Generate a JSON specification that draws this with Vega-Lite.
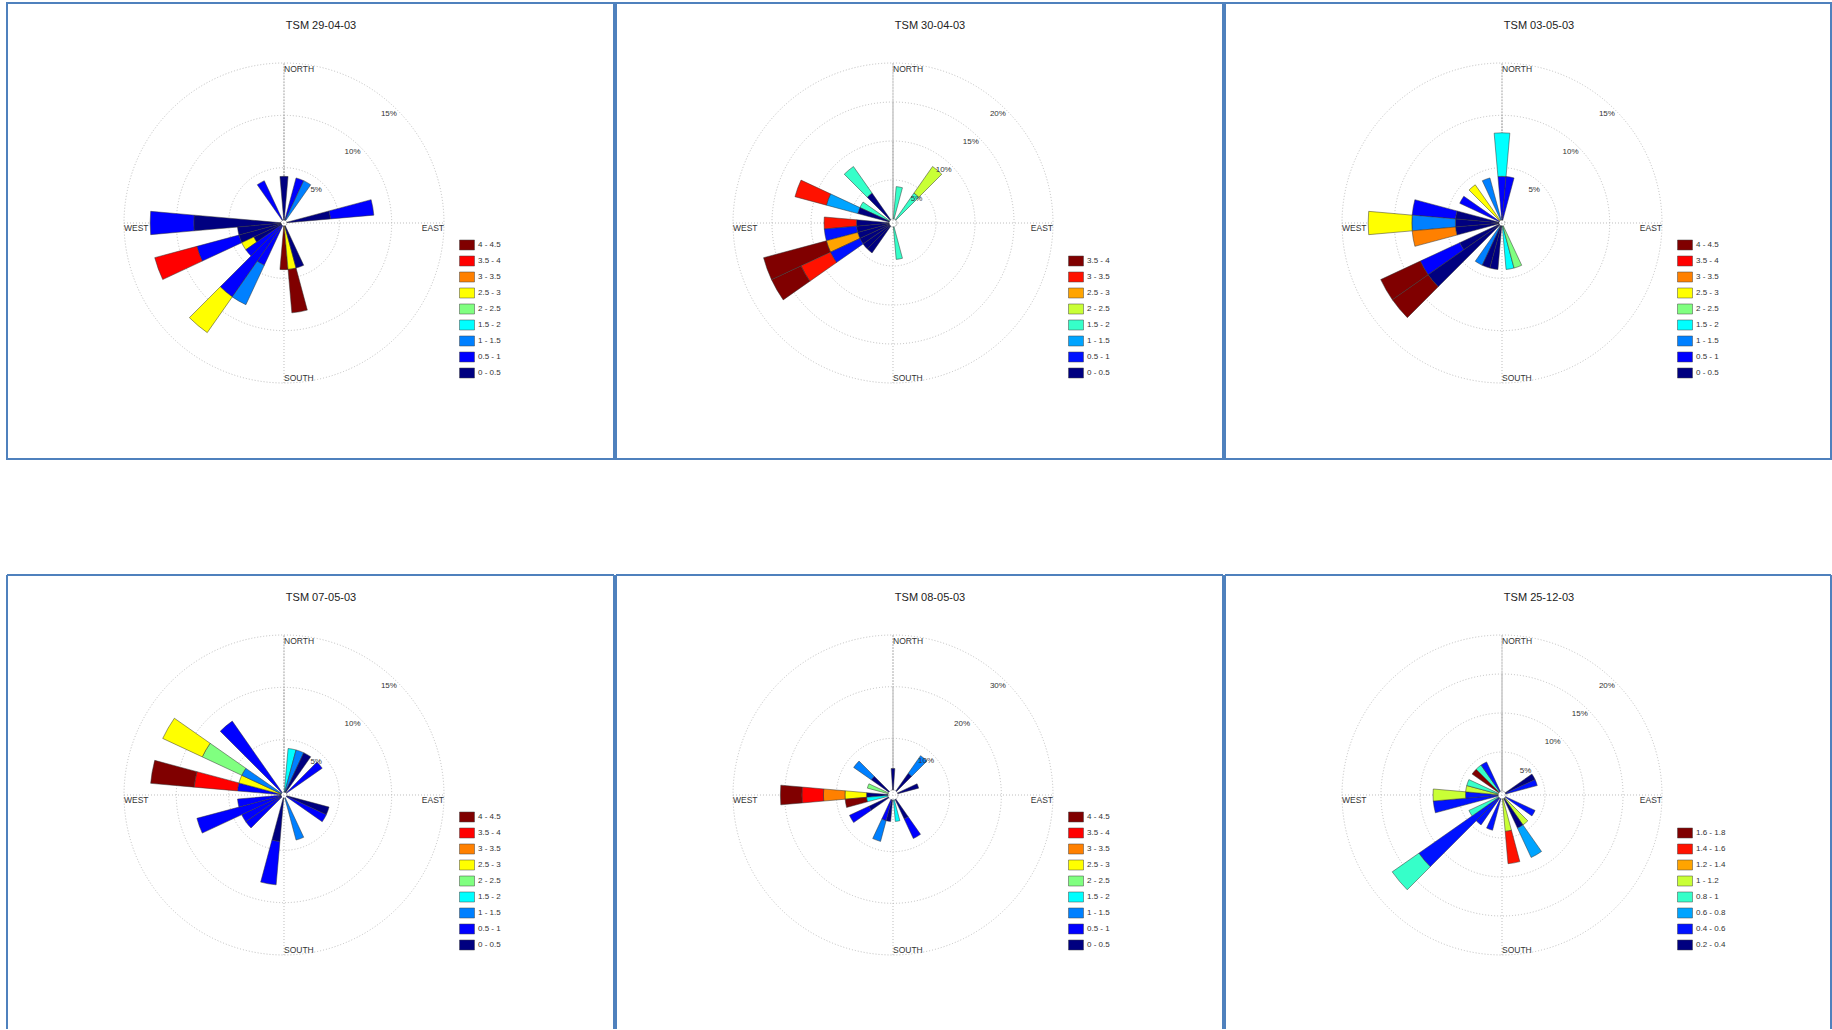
{
"$schema": "https://vega.github.io/schema/vega-lite/v6.json",
"background": "white",
"padding": {"left": 6, "top": 2, "right": 0, "bottom": 0},
"spacing": 114,
"config": {"view": {"stroke": "#4f81bd", "strokeWidth": 2}, "font": "Liberation Sans"},
"resolve": {"scale": {"x": "independent", "y": "independent", "color": "independent", "radius": "independent", "theta": "independent"}, "legend": {"color": "independent"}},
"vconcat": [
{"hconcat": [
{"width": 607, "height": 456,
"layer": [
{"data": {"values": [{"r": 5}, {"r": 10}, {"r": 15}]}, "mark": {"type": "arc", "theta": 0, "theta2": 6.283185, "filled": false, "stroke": "#b5b5b5", "strokeWidth": 0.9, "strokeDash": [1, 2]},
 "encoding": {"x": {"datum": 0, "type": "quantitative", "scale": {"domain": [-26.465, 31.529]}, "axis": null}, "y": {"datum": 0, "type": "quantitative", "scale": {"domain": [-22.548, 21.019]}, "axis": null}, "radius": {"field": "r", "type": "quantitative", "scale": {"type": "linear", "domain": [0, 15], "range": [3, 160]}, "stack": null}}},
{"data": {"values": [{}]}, "mark": {"type": "rule", "stroke": "#b5b5b5", "strokeWidth": 0.9, "strokeDash": [1, 2]},
 "encoding": {"x": {"datum": 0, "type": "quantitative", "scale": {"domain": [-26.465, 31.529]}, "axis": null}, "y": {"datum": -15.287, "type": "quantitative", "scale": {"domain": [-22.548, 21.019]}, "axis": null}, "y2": {"datum": 15.287}}},
{"data": {"values": [{}]}, "mark": {"type": "rule", "stroke": "#b5b5b5", "strokeWidth": 0.9, "strokeDash": [1, 2]},
 "encoding": {"y": {"datum": 0, "type": "quantitative", "scale": {"domain": [-22.548, 21.019]}, "axis": null}, "x": {"datum": -15.287, "type": "quantitative", "scale": {"domain": [-26.465, 31.529]}, "axis": null}, "x2": {"datum": 15.287}}},
{"data": {"values": [
 {"d0": -5, "d1": 5, "c": "0 - 0.5", "lo": 0, "hi": 4.17},
 {"d0": 325, "d1": 335, "c": "0.5 - 1", "lo": 0, "hi": 4.17},
 {"d0": 15, "d1": 25, "c": "0.5 - 1", "lo": 0, "hi": 4.17},
 {"d0": 25, "d1": 35, "c": "1 - 1.5", "lo": 0, "hi": 4.17},
 {"d0": 75, "d1": 85, "c": "0 - 0.5", "lo": 0, "hi": 4.17},
 {"d0": 75, "d1": 85, "c": "0.5 - 1", "lo": 4.17, "hi": 8.33},
 {"d0": 265, "d1": 275, "c": "0 - 0.5", "lo": 0, "hi": 8.33},
 {"d0": 265, "d1": 275, "c": "0.5 - 1", "lo": 8.33, "hi": 12.5},
 {"d0": 255, "d1": 265, "c": "0 - 0.5", "lo": 0, "hi": 4.17},
 {"d0": 245, "d1": 255, "c": "0 - 0.5", "lo": 0, "hi": 4.17},
 {"d0": 245, "d1": 255, "c": "0.5 - 1", "lo": 4.17, "hi": 8.33},
 {"d0": 245, "d1": 255, "c": "3.5 - 4", "lo": 8.33, "hi": 12.5},
 {"d0": 235, "d1": 245, "c": "0 - 0.5", "lo": 0, "hi": 2.9},
 {"d0": 235, "d1": 245, "c": "2.5 - 3", "lo": 2.9, "hi": 4.17},
 {"d0": 225, "d1": 235, "c": "0.5 - 1", "lo": 0, "hi": 4.17},
 {"d0": 215, "d1": 225, "c": "0.5 - 1", "lo": 0, "hi": 8.33},
 {"d0": 215, "d1": 225, "c": "2.5 - 3", "lo": 8.33, "hi": 12.5},
 {"d0": 205, "d1": 215, "c": "0.5 - 1", "lo": 0, "hi": 4.17},
 {"d0": 205, "d1": 215, "c": "1 - 1.5", "lo": 4.17, "hi": 8.33},
 {"d0": 175, "d1": 185, "c": "4 - 4.5", "lo": 0, "hi": 4.17},
 {"d0": 165, "d1": 175, "c": "2.5 - 3", "lo": 0, "hi": 4.17},
 {"d0": 165, "d1": 175, "c": "4 - 4.5", "lo": 4.17, "hi": 8.33},
 {"d0": 155, "d1": 165, "c": "0 - 0.5", "lo": 0, "hi": 4.17}]},
 "mark": {"type": "arc", "stroke": "#333333", "strokeWidth": 0.5},
 "encoding": {"x": {"datum": 0, "type": "quantitative", "scale": {"domain": [-26.465, 31.529]}, "axis": null}, "y": {"datum": 0, "type": "quantitative", "scale": {"domain": [-22.548, 21.019]}, "axis": null},
  "theta": {"field": "d0", "type": "quantitative", "scale": {"domain": [0, 360], "range": [0, 6.283185]}, "stack": null}, "theta2": {"field": "d1"},
  "radius": {"field": "hi", "type": "quantitative", "scale": {"type": "linear", "domain": [0, 15], "range": [3, 160]}, "stack": null}, "radius2": {"field": "lo"},
  "color": {"field": "c", "type": "nominal", "scale": {"domain": ["4 - 4.5", "3.5 - 4", "3 - 3.5", "2.5 - 3", "2 - 2.5", "1.5 - 2", "1 - 1.5", "0.5 - 1", "0 - 0.5"], "range": ["#800000", "#ff0000", "#ff8000", "#ffff00", "#80ff80", "#00ffff", "#0080ff", "#0000ff", "#000080"]},
   "legend": {"orient": "none", "legendX": 452, "legendY": 234, "title": null, "symbolType": "M-1,-0.667H1V0.667H-1Z", "symbolSize": 225, "symbolStrokeColor": "#444444", "symbolStrokeWidth": 0.5, "labelFontSize": 8, "labelColor": "#333333", "labelOffset": 3, "rowPadding": 1}}}},
{"data": {"values": [{}]}, "mark": {"type": "text", "text": "NORTH", "align": "left", "baseline": "middle", "radiusOffset": -6, "fontSize": 8.5, "fill": "#333333"},
 "encoding": {"x": {"datum": 0, "type": "quantitative", "scale": {"domain": [-26.465, 31.529]}, "axis": null}, "y": {"datum": 0, "type": "quantitative", "scale": {"domain": [-22.548, 21.019]}, "axis": null}, "theta": {"datum": 0, "type": "quantitative", "scale": {"domain": [0, 360], "range": [0, 6.283185]}}, "radius": {"datum": 15, "type": "quantitative", "scale": {"type": "linear", "domain": [0, 15], "range": [3, 160]}}}},
{"data": {"values": [{}]}, "mark": {"type": "text", "text": "SOUTH", "align": "left", "baseline": "middle", "radiusOffset": -5, "fontSize": 8.5, "fill": "#333333"},
 "encoding": {"x": {"datum": 0, "type": "quantitative", "scale": {"domain": [-26.465, 31.529]}, "axis": null}, "y": {"datum": 0, "type": "quantitative", "scale": {"domain": [-22.548, 21.019]}, "axis": null}, "theta": {"datum": 180, "type": "quantitative", "scale": {"domain": [0, 360], "range": [0, 6.283185]}}, "radius": {"datum": 15, "type": "quantitative", "scale": {"type": "linear", "domain": [0, 15], "range": [3, 160]}}}},
{"data": {"values": [{}]}, "mark": {"type": "text", "text": "WEST", "align": "left", "baseline": "middle", "dy": 5, "fontSize": 8.5, "fill": "#333333"},
 "encoding": {"x": {"datum": 0, "type": "quantitative", "scale": {"domain": [-26.465, 31.529]}, "axis": null}, "y": {"datum": 0, "type": "quantitative", "scale": {"domain": [-22.548, 21.019]}, "axis": null}, "theta": {"datum": 270, "type": "quantitative", "scale": {"domain": [0, 360], "range": [0, 6.283185]}}, "radius": {"datum": 15, "type": "quantitative", "scale": {"type": "linear", "domain": [0, 15], "range": [3, 160]}}}},
{"data": {"values": [{}]}, "mark": {"type": "text", "text": "EAST", "align": "right", "baseline": "middle", "dy": 5, "fontSize": 8.5, "fill": "#333333"},
 "encoding": {"x": {"datum": 0, "type": "quantitative", "scale": {"domain": [-26.465, 31.529]}, "axis": null}, "y": {"datum": 0, "type": "quantitative", "scale": {"domain": [-22.548, 21.019]}, "axis": null}, "theta": {"datum": 90, "type": "quantitative", "scale": {"domain": [0, 360], "range": [0, 6.283185]}}, "radius": {"datum": 15, "type": "quantitative", "scale": {"type": "linear", "domain": [0, 15], "range": [3, 160]}}}},
{"data": {"values": [{"v": 5, "lbl": "5%"}, {"v": 10, "lbl": "10%"}, {"v": 15, "lbl": "15%"}]}, "mark": {"type": "text", "radiusOffset": -9, "fontSize": 8, "fill": "#333333"},
 "encoding": {"x": {"datum": 0, "type": "quantitative", "scale": {"domain": [-26.465, 31.529]}, "axis": null}, "y": {"datum": 0, "type": "quantitative", "scale": {"domain": [-22.548, 21.019]}, "axis": null}, "theta": {"datum": 44, "type": "quantitative", "scale": {"domain": [0, 360], "range": [0, 6.283185]}}, "radius": {"field": "v", "type": "quantitative", "scale": {"type": "linear", "domain": [0, 15], "range": [3, 160]}, "stack": null}, "text": {"field": "lbl"}}},
{"data": {"values": [{}]}, "mark": {"type": "text", "text": "TSM 29-04-03", "align": "center", "baseline": "middle", "fontSize": 11, "fill": "#222222"},
 "encoding": {"x": {"datum": 3.535, "type": "quantitative", "scale": {"domain": [-26.465, 31.529]}, "axis": null}, "y": {"datum": 18.822, "type": "quantitative", "scale": {"domain": [-22.548, 21.019]}, "axis": null}}}
]},
{"width": 607, "height": 456,
"layer": [
{"data": {"values": [{"r": 5}, {"r": 10}, {"r": 15}, {"r": 20}]}, "mark": {"type": "arc", "theta": 0, "theta2": 6.283185, "filled": false, "stroke": "#b5b5b5", "strokeWidth": 0.9, "strokeDash": [1, 2]},
 "encoding": {"x": {"datum": 0, "type": "quantitative", "scale": {"domain": [-35.513, 42.308]}, "axis": null}, "y": {"datum": 0, "type": "quantitative", "scale": {"domain": [-30.256, 28.205]}, "axis": null}, "radius": {"field": "r", "type": "quantitative", "scale": {"type": "linear", "domain": [0, 20], "range": [4, 160]}, "stack": null}}},
{"data": {"values": [{}]}, "mark": {"type": "rule", "stroke": "#b5b5b5", "strokeWidth": 0.9, "strokeDash": [1, 2]},
 "encoding": {"x": {"datum": 0, "type": "quantitative", "scale": {"domain": [-35.513, 42.308]}, "axis": null}, "y": {"datum": -20.513, "type": "quantitative", "scale": {"domain": [-30.256, 28.205]}, "axis": null}, "y2": {"datum": 20.513}}},
{"data": {"values": [{}]}, "mark": {"type": "rule", "stroke": "#b5b5b5", "strokeWidth": 0.9, "strokeDash": [1, 2]},
 "encoding": {"y": {"datum": 0, "type": "quantitative", "scale": {"domain": [-30.256, 28.205]}, "axis": null}, "x": {"datum": -20.513, "type": "quantitative", "scale": {"domain": [-35.513, 42.308]}, "axis": null}, "x2": {"datum": 20.513}}},
{"data": {"values": [
 {"d0": 5, "d1": 15, "c": "1.5 - 2", "lo": 0, "hi": 4.17},
 {"d0": 35, "d1": 45, "c": "1.5 - 2", "lo": 0, "hi": 4.17},
 {"d0": 35, "d1": 45, "c": "2 - 2.5", "lo": 4.17, "hi": 8.33},
 {"d0": 165, "d1": 175, "c": "1.5 - 2", "lo": 0, "hi": 4.17},
 {"d0": 315, "d1": 325, "c": "0 - 0.5", "lo": 0, "hi": 4.17},
 {"d0": 315, "d1": 325, "c": "1.5 - 2", "lo": 4.17, "hi": 8.33},
 {"d0": 295, "d1": 305, "c": "1.5 - 2", "lo": 0, "hi": 4.17},
 {"d0": 285, "d1": 295, "c": "0 - 0.5", "lo": 0, "hi": 4.17},
 {"d0": 285, "d1": 295, "c": "1 - 1.5", "lo": 4.17, "hi": 8.33},
 {"d0": 285, "d1": 295, "c": "3 - 3.5", "lo": 8.33, "hi": 12.5},
 {"d0": 265, "d1": 275, "c": "0 - 0.5", "lo": 0, "hi": 4.17},
 {"d0": 265, "d1": 275, "c": "3 - 3.5", "lo": 4.17, "hi": 8.33},
 {"d0": 255, "d1": 265, "c": "0 - 0.5", "lo": 0, "hi": 4.17},
 {"d0": 255, "d1": 265, "c": "0.5 - 1", "lo": 4.17, "hi": 8.33},
 {"d0": 245, "d1": 255, "c": "0 - 0.5", "lo": 0, "hi": 4.17},
 {"d0": 245, "d1": 255, "c": "2.5 - 3", "lo": 4.17, "hi": 8.33},
 {"d0": 245, "d1": 255, "c": "3.5 - 4", "lo": 8.33, "hi": 16.67},
 {"d0": 235, "d1": 245, "c": "0 - 0.5", "lo": 0, "hi": 4.17},
 {"d0": 235, "d1": 245, "c": "0.5 - 1", "lo": 4.17, "hi": 8.33},
 {"d0": 235, "d1": 245, "c": "3 - 3.5", "lo": 8.33, "hi": 12.5},
 {"d0": 235, "d1": 245, "c": "3.5 - 4", "lo": 12.5, "hi": 16.67},
 {"d0": 225, "d1": 235, "c": "0 - 0.5", "lo": 0, "hi": 4.17},
 {"d0": 215, "d1": 225, "c": "0 - 0.5", "lo": 0, "hi": 4.17}]},
 "mark": {"type": "arc", "stroke": "#333333", "strokeWidth": 0.5},
 "encoding": {"x": {"datum": 0, "type": "quantitative", "scale": {"domain": [-35.513, 42.308]}, "axis": null}, "y": {"datum": 0, "type": "quantitative", "scale": {"domain": [-30.256, 28.205]}, "axis": null},
  "theta": {"field": "d0", "type": "quantitative", "scale": {"domain": [0, 360], "range": [0, 6.283185]}, "stack": null}, "theta2": {"field": "d1"},
  "radius": {"field": "hi", "type": "quantitative", "scale": {"type": "linear", "domain": [0, 20], "range": [4, 160]}, "stack": null}, "radius2": {"field": "lo"},
  "color": {"field": "c", "type": "nominal", "scale": {"domain": ["3.5 - 4", "3 - 3.5", "2.5 - 3", "2 - 2.5", "1.5 - 2", "1 - 1.5", "0.5 - 1", "0 - 0.5"], "range": ["#800000", "#ff1200", "#ffa400", "#c9ff36", "#36ffc9", "#00a4ff", "#0012ff", "#000080"]},
   "legend": {"orient": "none", "legendX": 452, "legendY": 250, "title": null, "symbolType": "M-1,-0.667H1V0.667H-1Z", "symbolSize": 225, "symbolStrokeColor": "#444444", "symbolStrokeWidth": 0.5, "labelFontSize": 8, "labelColor": "#333333", "labelOffset": 3, "rowPadding": 1}}}},
{"data": {"values": [{}]}, "mark": {"type": "text", "text": "NORTH", "align": "left", "baseline": "middle", "radiusOffset": -6, "fontSize": 8.5, "fill": "#333333"},
 "encoding": {"x": {"datum": 0, "type": "quantitative", "scale": {"domain": [-35.513, 42.308]}, "axis": null}, "y": {"datum": 0, "type": "quantitative", "scale": {"domain": [-30.256, 28.205]}, "axis": null}, "theta": {"datum": 0, "type": "quantitative", "scale": {"domain": [0, 360], "range": [0, 6.283185]}}, "radius": {"datum": 20, "type": "quantitative", "scale": {"type": "linear", "domain": [0, 20], "range": [4, 160]}}}},
{"data": {"values": [{}]}, "mark": {"type": "text", "text": "SOUTH", "align": "left", "baseline": "middle", "radiusOffset": -5, "fontSize": 8.5, "fill": "#333333"},
 "encoding": {"x": {"datum": 0, "type": "quantitative", "scale": {"domain": [-35.513, 42.308]}, "axis": null}, "y": {"datum": 0, "type": "quantitative", "scale": {"domain": [-30.256, 28.205]}, "axis": null}, "theta": {"datum": 180, "type": "quantitative", "scale": {"domain": [0, 360], "range": [0, 6.283185]}}, "radius": {"datum": 20, "type": "quantitative", "scale": {"type": "linear", "domain": [0, 20], "range": [4, 160]}}}},
{"data": {"values": [{}]}, "mark": {"type": "text", "text": "WEST", "align": "left", "baseline": "middle", "dy": 5, "fontSize": 8.5, "fill": "#333333"},
 "encoding": {"x": {"datum": 0, "type": "quantitative", "scale": {"domain": [-35.513, 42.308]}, "axis": null}, "y": {"datum": 0, "type": "quantitative", "scale": {"domain": [-30.256, 28.205]}, "axis": null}, "theta": {"datum": 270, "type": "quantitative", "scale": {"domain": [0, 360], "range": [0, 6.283185]}}, "radius": {"datum": 20, "type": "quantitative", "scale": {"type": "linear", "domain": [0, 20], "range": [4, 160]}}}},
{"data": {"values": [{}]}, "mark": {"type": "text", "text": "EAST", "align": "right", "baseline": "middle", "dy": 5, "fontSize": 8.5, "fill": "#333333"},
 "encoding": {"x": {"datum": 0, "type": "quantitative", "scale": {"domain": [-35.513, 42.308]}, "axis": null}, "y": {"datum": 0, "type": "quantitative", "scale": {"domain": [-30.256, 28.205]}, "axis": null}, "theta": {"datum": 90, "type": "quantitative", "scale": {"domain": [0, 360], "range": [0, 6.283185]}}, "radius": {"datum": 20, "type": "quantitative", "scale": {"type": "linear", "domain": [0, 20], "range": [4, 160]}}}},
{"data": {"values": [{"v": 5, "lbl": "5%"}, {"v": 10, "lbl": "10%"}, {"v": 15, "lbl": "15%"}, {"v": 20, "lbl": "20%"}]}, "mark": {"type": "text", "radiusOffset": -9, "fontSize": 8, "fill": "#333333"},
 "encoding": {"x": {"datum": 0, "type": "quantitative", "scale": {"domain": [-35.513, 42.308]}, "axis": null}, "y": {"datum": 0, "type": "quantitative", "scale": {"domain": [-30.256, 28.205]}, "axis": null}, "theta": {"datum": 44, "type": "quantitative", "scale": {"domain": [0, 360], "range": [0, 6.283185]}}, "radius": {"field": "v", "type": "quantitative", "scale": {"type": "linear", "domain": [0, 20], "range": [4, 160]}, "stack": null}, "text": {"field": "lbl"}}},
{"data": {"values": [{}]}, "mark": {"type": "text", "text": "TSM 30-04-03", "align": "center", "baseline": "middle", "fontSize": 11, "fill": "#222222"},
 "encoding": {"x": {"datum": 4.744, "type": "quantitative", "scale": {"domain": [-35.513, 42.308]}, "axis": null}, "y": {"datum": 25.256, "type": "quantitative", "scale": {"domain": [-30.256, 28.205]}, "axis": null}}}
]},
{"width": 606, "height": 456,
"layer": [
{"data": {"values": [{"r": 5}, {"r": 10}, {"r": 15}]}, "mark": {"type": "arc", "theta": 0, "theta2": 6.283185, "filled": false, "stroke": "#b5b5b5", "strokeWidth": 0.9, "strokeDash": [1, 2]},
 "encoding": {"x": {"datum": 0, "type": "quantitative", "scale": {"domain": [-26.465, 31.433]}, "axis": null}, "y": {"datum": 0, "type": "quantitative", "scale": {"domain": [-22.548, 21.019]}, "axis": null}, "radius": {"field": "r", "type": "quantitative", "scale": {"type": "linear", "domain": [0, 15], "range": [3, 160]}, "stack": null}}},
{"data": {"values": [{}]}, "mark": {"type": "rule", "stroke": "#b5b5b5", "strokeWidth": 0.9, "strokeDash": [1, 2]},
 "encoding": {"x": {"datum": 0, "type": "quantitative", "scale": {"domain": [-26.465, 31.433]}, "axis": null}, "y": {"datum": -15.287, "type": "quantitative", "scale": {"domain": [-22.548, 21.019]}, "axis": null}, "y2": {"datum": 15.287}}},
{"data": {"values": [{}]}, "mark": {"type": "rule", "stroke": "#b5b5b5", "strokeWidth": 0.9, "strokeDash": [1, 2]},
 "encoding": {"y": {"datum": 0, "type": "quantitative", "scale": {"domain": [-22.548, 21.019]}, "axis": null}, "x": {"datum": -15.287, "type": "quantitative", "scale": {"domain": [-26.465, 31.433]}, "axis": null}, "x2": {"datum": 15.287}}},
{"data": {"values": [
 {"d0": -5, "d1": 5, "c": "0.5 - 1", "lo": 0, "hi": 4.17},
 {"d0": -5, "d1": 5, "c": "1.5 - 2", "lo": 4.17, "hi": 8.33},
 {"d0": 5, "d1": 15, "c": "0.5 - 1", "lo": 0, "hi": 4.17},
 {"d0": 335, "d1": 345, "c": "1 - 1.5", "lo": 0, "hi": 4.17},
 {"d0": 315, "d1": 325, "c": "2.5 - 3", "lo": 0, "hi": 4.17},
 {"d0": 295, "d1": 305, "c": "0.5 - 1", "lo": 0, "hi": 4.17},
 {"d0": 275, "d1": 285, "c": "0 - 0.5", "lo": 0, "hi": 4.17},
 {"d0": 275, "d1": 285, "c": "0.5 - 1", "lo": 4.17, "hi": 8.33},
 {"d0": 265, "d1": 275, "c": "0 - 0.5", "lo": 0, "hi": 4.17},
 {"d0": 265, "d1": 275, "c": "1 - 1.5", "lo": 4.17, "hi": 8.33},
 {"d0": 265, "d1": 275, "c": "2.5 - 3", "lo": 8.33, "hi": 12.5},
 {"d0": 255, "d1": 265, "c": "0 - 0.5", "lo": 0, "hi": 4.17},
 {"d0": 255, "d1": 265, "c": "3 - 3.5", "lo": 4.17, "hi": 8.33},
 {"d0": 235, "d1": 245, "c": "0 - 0.5", "lo": 0, "hi": 4.17},
 {"d0": 235, "d1": 245, "c": "0.5 - 1", "lo": 4.17, "hi": 8.33},
 {"d0": 235, "d1": 245, "c": "4 - 4.5", "lo": 8.33, "hi": 12.5},
 {"d0": 225, "d1": 235, "c": "0 - 0.5", "lo": 0, "hi": 8.33},
 {"d0": 225, "d1": 235, "c": "4 - 4.5", "lo": 8.33, "hi": 12.5},
 {"d0": 205, "d1": 215, "c": "1 - 1.5", "lo": 0, "hi": 4.17},
 {"d0": 195, "d1": 205, "c": "0 - 0.5", "lo": 0, "hi": 4.17},
 {"d0": 185, "d1": 195, "c": "0 - 0.5", "lo": 0, "hi": 4.17},
 {"d0": 165, "d1": 175, "c": "1.5 - 2", "lo": 0, "hi": 4.17},
 {"d0": 155, "d1": 165, "c": "2 - 2.5", "lo": 0, "hi": 4.17}]},
 "mark": {"type": "arc", "stroke": "#333333", "strokeWidth": 0.5},
 "encoding": {"x": {"datum": 0, "type": "quantitative", "scale": {"domain": [-26.465, 31.433]}, "axis": null}, "y": {"datum": 0, "type": "quantitative", "scale": {"domain": [-22.548, 21.019]}, "axis": null},
  "theta": {"field": "d0", "type": "quantitative", "scale": {"domain": [0, 360], "range": [0, 6.283185]}, "stack": null}, "theta2": {"field": "d1"},
  "radius": {"field": "hi", "type": "quantitative", "scale": {"type": "linear", "domain": [0, 15], "range": [3, 160]}, "stack": null}, "radius2": {"field": "lo"},
  "color": {"field": "c", "type": "nominal", "scale": {"domain": ["4 - 4.5", "3.5 - 4", "3 - 3.5", "2.5 - 3", "2 - 2.5", "1.5 - 2", "1 - 1.5", "0.5 - 1", "0 - 0.5"], "range": ["#800000", "#ff0000", "#ff8000", "#ffff00", "#80ff80", "#00ffff", "#0080ff", "#0000ff", "#000080"]},
   "legend": {"orient": "none", "legendX": 452, "legendY": 234, "title": null, "symbolType": "M-1,-0.667H1V0.667H-1Z", "symbolSize": 225, "symbolStrokeColor": "#444444", "symbolStrokeWidth": 0.5, "labelFontSize": 8, "labelColor": "#333333", "labelOffset": 3, "rowPadding": 1}}}},
{"data": {"values": [{}]}, "mark": {"type": "text", "text": "NORTH", "align": "left", "baseline": "middle", "radiusOffset": -6, "fontSize": 8.5, "fill": "#333333"},
 "encoding": {"x": {"datum": 0, "type": "quantitative", "scale": {"domain": [-26.465, 31.433]}, "axis": null}, "y": {"datum": 0, "type": "quantitative", "scale": {"domain": [-22.548, 21.019]}, "axis": null}, "theta": {"datum": 0, "type": "quantitative", "scale": {"domain": [0, 360], "range": [0, 6.283185]}}, "radius": {"datum": 15, "type": "quantitative", "scale": {"type": "linear", "domain": [0, 15], "range": [3, 160]}}}},
{"data": {"values": [{}]}, "mark": {"type": "text", "text": "SOUTH", "align": "left", "baseline": "middle", "radiusOffset": -5, "fontSize": 8.5, "fill": "#333333"},
 "encoding": {"x": {"datum": 0, "type": "quantitative", "scale": {"domain": [-26.465, 31.433]}, "axis": null}, "y": {"datum": 0, "type": "quantitative", "scale": {"domain": [-22.548, 21.019]}, "axis": null}, "theta": {"datum": 180, "type": "quantitative", "scale": {"domain": [0, 360], "range": [0, 6.283185]}}, "radius": {"datum": 15, "type": "quantitative", "scale": {"type": "linear", "domain": [0, 15], "range": [3, 160]}}}},
{"data": {"values": [{}]}, "mark": {"type": "text", "text": "WEST", "align": "left", "baseline": "middle", "dy": 5, "fontSize": 8.5, "fill": "#333333"},
 "encoding": {"x": {"datum": 0, "type": "quantitative", "scale": {"domain": [-26.465, 31.433]}, "axis": null}, "y": {"datum": 0, "type": "quantitative", "scale": {"domain": [-22.548, 21.019]}, "axis": null}, "theta": {"datum": 270, "type": "quantitative", "scale": {"domain": [0, 360], "range": [0, 6.283185]}}, "radius": {"datum": 15, "type": "quantitative", "scale": {"type": "linear", "domain": [0, 15], "range": [3, 160]}}}},
{"data": {"values": [{}]}, "mark": {"type": "text", "text": "EAST", "align": "right", "baseline": "middle", "dy": 5, "fontSize": 8.5, "fill": "#333333"},
 "encoding": {"x": {"datum": 0, "type": "quantitative", "scale": {"domain": [-26.465, 31.433]}, "axis": null}, "y": {"datum": 0, "type": "quantitative", "scale": {"domain": [-22.548, 21.019]}, "axis": null}, "theta": {"datum": 90, "type": "quantitative", "scale": {"domain": [0, 360], "range": [0, 6.283185]}}, "radius": {"datum": 15, "type": "quantitative", "scale": {"type": "linear", "domain": [0, 15], "range": [3, 160]}}}},
{"data": {"values": [{"v": 5, "lbl": "5%"}, {"v": 10, "lbl": "10%"}, {"v": 15, "lbl": "15%"}]}, "mark": {"type": "text", "radiusOffset": -9, "fontSize": 8, "fill": "#333333"},
 "encoding": {"x": {"datum": 0, "type": "quantitative", "scale": {"domain": [-26.465, 31.433]}, "axis": null}, "y": {"datum": 0, "type": "quantitative", "scale": {"domain": [-22.548, 21.019]}, "axis": null}, "theta": {"datum": 44, "type": "quantitative", "scale": {"domain": [0, 360], "range": [0, 6.283185]}}, "radius": {"field": "v", "type": "quantitative", "scale": {"type": "linear", "domain": [0, 15], "range": [3, 160]}, "stack": null}, "text": {"field": "lbl"}}},
{"data": {"values": [{}]}, "mark": {"type": "text", "text": "TSM 03-05-03", "align": "center", "baseline": "middle", "fontSize": 11, "fill": "#222222"},
 "encoding": {"x": {"datum": 3.535, "type": "quantitative", "scale": {"domain": [-26.465, 31.433]}, "axis": null}, "y": {"datum": 18.822, "type": "quantitative", "scale": {"domain": [-22.548, 21.019]}, "axis": null}}}
]}
], "spacing": 2, "bounds": "flush",
"resolve": {"scale": {"x": "independent", "y": "independent", "color": "independent", "radius": "independent", "theta": "independent"}, "legend": {"color": "independent"}}},
{"hconcat": [
{"width": 607, "height": 454, "view": {"stroke": null},
"layer": [
{"data": {"values": [{"r": 5}, {"r": 10}, {"r": 15}]}, "mark": {"type": "arc", "theta": 0, "theta2": 6.283185, "filled": false, "stroke": "#b5b5b5", "strokeWidth": 0.9, "strokeDash": [1, 2]},
 "encoding": {"x": {"datum": 0, "type": "quantitative", "scale": {"domain": [-26.465, 31.529]}, "axis": null}, "y": {"datum": 0, "type": "quantitative", "scale": {"domain": [-22.357, 21.019]}, "axis": null}, "radius": {"field": "r", "type": "quantitative", "scale": {"type": "linear", "domain": [0, 15], "range": [3, 160]}, "stack": null}}},
{"data": {"values": [{}]}, "mark": {"type": "rule", "stroke": "#b5b5b5", "strokeWidth": 0.9, "strokeDash": [1, 2]},
 "encoding": {"x": {"datum": 0, "type": "quantitative", "scale": {"domain": [-26.465, 31.529]}, "axis": null}, "y": {"datum": -15.287, "type": "quantitative", "scale": {"domain": [-22.357, 21.019]}, "axis": null}, "y2": {"datum": 15.287}}},
{"data": {"values": [{}]}, "mark": {"type": "rule", "stroke": "#b5b5b5", "strokeWidth": 0.9, "strokeDash": [1, 2]},
 "encoding": {"y": {"datum": 0, "type": "quantitative", "scale": {"domain": [-22.357, 21.019]}, "axis": null}, "x": {"datum": -15.287, "type": "quantitative", "scale": {"domain": [-26.465, 31.529]}, "axis": null}, "x2": {"datum": 15.287}}},
{"data": {"values": [
 {"d0": 5, "d1": 15, "c": "1.5 - 2", "lo": 0, "hi": 4.17},
 {"d0": 15, "d1": 25, "c": "1 - 1.5", "lo": 0, "hi": 4.17},
 {"d0": 25, "d1": 35, "c": "0 - 0.5", "lo": 0, "hi": 4.17},
 {"d0": 45, "d1": 55, "c": "0.5 - 1", "lo": 0, "hi": 4.17},
 {"d0": 105, "d1": 115, "c": "0 - 0.5", "lo": 0, "hi": 4.17},
 {"d0": 115, "d1": 125, "c": "0.5 - 1", "lo": 0, "hi": 4.17},
 {"d0": 155, "d1": 165, "c": "1 - 1.5", "lo": 0, "hi": 4.17},
 {"d0": 185, "d1": 195, "c": "0 - 0.5", "lo": 0, "hi": 4.17},
 {"d0": 185, "d1": 195, "c": "0.5 - 1", "lo": 4.17, "hi": 8.33},
 {"d0": 225, "d1": 235, "c": "0.5 - 1", "lo": 0, "hi": 4.17},
 {"d0": 235, "d1": 245, "c": "0.5 - 1", "lo": 0, "hi": 4.17},
 {"d0": 245, "d1": 255, "c": "0.5 - 1", "lo": 0, "hi": 8.33},
 {"d0": 255, "d1": 265, "c": "0.5 - 1", "lo": 0, "hi": 4.17},
 {"d0": 275, "d1": 285, "c": "0.5 - 1", "lo": 0, "hi": 4.17},
 {"d0": 275, "d1": 285, "c": "3.5 - 4", "lo": 4.17, "hi": 8.33},
 {"d0": 275, "d1": 285, "c": "4 - 4.5", "lo": 8.33, "hi": 12.5},
 {"d0": 285, "d1": 295, "c": "2.5 - 3", "lo": 0, "hi": 4.17},
 {"d0": 295, "d1": 305, "c": "1 - 1.5", "lo": 0, "hi": 4.17},
 {"d0": 295, "d1": 305, "c": "2 - 2.5", "lo": 4.17, "hi": 8.33},
 {"d0": 295, "d1": 305, "c": "2.5 - 3", "lo": 8.33, "hi": 12.5},
 {"d0": 315, "d1": 325, "c": "0.5 - 1", "lo": 0, "hi": 8.33}]},
 "mark": {"type": "arc", "stroke": "#333333", "strokeWidth": 0.5},
 "encoding": {"x": {"datum": 0, "type": "quantitative", "scale": {"domain": [-26.465, 31.529]}, "axis": null}, "y": {"datum": 0, "type": "quantitative", "scale": {"domain": [-22.357, 21.019]}, "axis": null},
  "theta": {"field": "d0", "type": "quantitative", "scale": {"domain": [0, 360], "range": [0, 6.283185]}, "stack": null}, "theta2": {"field": "d1"},
  "radius": {"field": "hi", "type": "quantitative", "scale": {"type": "linear", "domain": [0, 15], "range": [3, 160]}, "stack": null}, "radius2": {"field": "lo"},
  "color": {"field": "c", "type": "nominal", "scale": {"domain": ["4 - 4.5", "3.5 - 4", "3 - 3.5", "2.5 - 3", "2 - 2.5", "1.5 - 2", "1 - 1.5", "0.5 - 1", "0 - 0.5"], "range": ["#800000", "#ff0000", "#ff8000", "#ffff00", "#80ff80", "#00ffff", "#0080ff", "#0000ff", "#000080"]},
   "legend": {"orient": "none", "legendX": 452, "legendY": 234, "title": null, "symbolType": "M-1,-0.667H1V0.667H-1Z", "symbolSize": 225, "symbolStrokeColor": "#444444", "symbolStrokeWidth": 0.5, "labelFontSize": 8, "labelColor": "#333333", "labelOffset": 3, "rowPadding": 1}}}},
{"data": {"values": [{}]}, "mark": {"type": "text", "text": "NORTH", "align": "left", "baseline": "middle", "radiusOffset": -6, "fontSize": 8.5, "fill": "#333333"},
 "encoding": {"x": {"datum": 0, "type": "quantitative", "scale": {"domain": [-26.465, 31.529]}, "axis": null}, "y": {"datum": 0, "type": "quantitative", "scale": {"domain": [-22.357, 21.019]}, "axis": null}, "theta": {"datum": 0, "type": "quantitative", "scale": {"domain": [0, 360], "range": [0, 6.283185]}}, "radius": {"datum": 15, "type": "quantitative", "scale": {"type": "linear", "domain": [0, 15], "range": [3, 160]}}}},
{"data": {"values": [{}]}, "mark": {"type": "text", "text": "SOUTH", "align": "left", "baseline": "middle", "radiusOffset": -5, "fontSize": 8.5, "fill": "#333333"},
 "encoding": {"x": {"datum": 0, "type": "quantitative", "scale": {"domain": [-26.465, 31.529]}, "axis": null}, "y": {"datum": 0, "type": "quantitative", "scale": {"domain": [-22.357, 21.019]}, "axis": null}, "theta": {"datum": 180, "type": "quantitative", "scale": {"domain": [0, 360], "range": [0, 6.283185]}}, "radius": {"datum": 15, "type": "quantitative", "scale": {"type": "linear", "domain": [0, 15], "range": [3, 160]}}}},
{"data": {"values": [{}]}, "mark": {"type": "text", "text": "WEST", "align": "left", "baseline": "middle", "dy": 5, "fontSize": 8.5, "fill": "#333333"},
 "encoding": {"x": {"datum": 0, "type": "quantitative", "scale": {"domain": [-26.465, 31.529]}, "axis": null}, "y": {"datum": 0, "type": "quantitative", "scale": {"domain": [-22.357, 21.019]}, "axis": null}, "theta": {"datum": 270, "type": "quantitative", "scale": {"domain": [0, 360], "range": [0, 6.283185]}}, "radius": {"datum": 15, "type": "quantitative", "scale": {"type": "linear", "domain": [0, 15], "range": [3, 160]}}}},
{"data": {"values": [{}]}, "mark": {"type": "text", "text": "EAST", "align": "right", "baseline": "middle", "dy": 5, "fontSize": 8.5, "fill": "#333333"},
 "encoding": {"x": {"datum": 0, "type": "quantitative", "scale": {"domain": [-26.465, 31.529]}, "axis": null}, "y": {"datum": 0, "type": "quantitative", "scale": {"domain": [-22.357, 21.019]}, "axis": null}, "theta": {"datum": 90, "type": "quantitative", "scale": {"domain": [0, 360], "range": [0, 6.283185]}}, "radius": {"datum": 15, "type": "quantitative", "scale": {"type": "linear", "domain": [0, 15], "range": [3, 160]}}}},
{"data": {"values": [{"v": 5, "lbl": "5%"}, {"v": 10, "lbl": "10%"}, {"v": 15, "lbl": "15%"}]}, "mark": {"type": "text", "radiusOffset": -9, "fontSize": 8, "fill": "#333333"},
 "encoding": {"x": {"datum": 0, "type": "quantitative", "scale": {"domain": [-26.465, 31.529]}, "axis": null}, "y": {"datum": 0, "type": "quantitative", "scale": {"domain": [-22.357, 21.019]}, "axis": null}, "theta": {"datum": 44, "type": "quantitative", "scale": {"domain": [0, 360], "range": [0, 6.283185]}}, "radius": {"field": "v", "type": "quantitative", "scale": {"type": "linear", "domain": [0, 15], "range": [3, 160]}, "stack": null}, "text": {"field": "lbl"}}},
{"data": {"values": [{}]}, "mark": {"type": "text", "text": "TSM 07-05-03", "align": "center", "baseline": "middle", "fontSize": 11, "fill": "#222222"},
 "encoding": {"x": {"datum": 3.535, "type": "quantitative", "scale": {"domain": [-26.465, 31.529]}, "axis": null}, "y": {"datum": 18.822, "type": "quantitative", "scale": {"domain": [-22.357, 21.019]}, "axis": null}}},
{"data": {"values": [{}]}, "mark": {"type": "rule", "stroke": "#4f81bd", "strokeWidth": 2},
 "encoding": {"x": {"datum": -26.465, "type": "quantitative", "scale": {"domain": [-26.465, 31.529]}, "axis": null}, "y": {"datum": -22.357, "type": "quantitative", "scale": {"domain": [-22.357, 21.019]}, "axis": null}, "y2": {"datum": 21.019}}},
{"data": {"values": [{}]}, "mark": {"type": "rule", "stroke": "#4f81bd", "strokeWidth": 2},
 "encoding": {"x": {"datum": 31.529, "type": "quantitative", "scale": {"domain": [-26.465, 31.529]}, "axis": null}, "y": {"datum": -22.357, "type": "quantitative", "scale": {"domain": [-22.357, 21.019]}, "axis": null}, "y2": {"datum": 21.019}}},
{"data": {"values": [{}]}, "mark": {"type": "rule", "stroke": "#4f81bd", "strokeWidth": 2},
 "encoding": {"y": {"datum": 21.019, "type": "quantitative", "scale": {"domain": [-22.357, 21.019]}, "axis": null}, "x": {"datum": -26.465, "type": "quantitative", "scale": {"domain": [-26.465, 31.529]}, "axis": null}, "x2": {"datum": 31.529}}}
]},
{"width": 607, "height": 454, "view": {"stroke": null},
"layer": [
{"data": {"values": [{"r": 10}, {"r": 20}, {"r": 30}]}, "mark": {"type": "arc", "theta": 0, "theta2": 6.283185, "filled": false, "stroke": "#b5b5b5", "strokeWidth": 0.9, "strokeDash": [1, 2]},
 "encoding": {"x": {"datum": 0, "type": "quantitative", "scale": {"domain": [-53.613, 63.871]}, "axis": null}, "y": {"datum": 0, "type": "quantitative", "scale": {"domain": [-45.29, 42.581]}, "axis": null}, "radius": {"field": "r", "type": "quantitative", "scale": {"type": "linear", "domain": [0, 30], "range": [5, 160]}, "stack": null}}},
{"data": {"values": [{}]}, "mark": {"type": "rule", "stroke": "#b5b5b5", "strokeWidth": 0.9, "strokeDash": [1, 2]},
 "encoding": {"x": {"datum": 0, "type": "quantitative", "scale": {"domain": [-53.613, 63.871]}, "axis": null}, "y": {"datum": -30.968, "type": "quantitative", "scale": {"domain": [-45.29, 42.581]}, "axis": null}, "y2": {"datum": 30.968}}},
{"data": {"values": [{}]}, "mark": {"type": "rule", "stroke": "#b5b5b5", "strokeWidth": 0.9, "strokeDash": [1, 2]},
 "encoding": {"y": {"datum": 0, "type": "quantitative", "scale": {"domain": [-45.29, 42.581]}, "axis": null}, "x": {"datum": -30.968, "type": "quantitative", "scale": {"domain": [-53.613, 63.871]}, "axis": null}, "x2": {"datum": 30.968}}},
{"data": {"values": [
 {"d0": 265, "d1": 275, "c": "0 - 0.5", "lo": 0, "hi": 4.17},
 {"d0": 265, "d1": 275, "c": "2.5 - 3", "lo": 4.17, "hi": 8.33},
 {"d0": 265, "d1": 275, "c": "3 - 3.5", "lo": 8.33, "hi": 12.5},
 {"d0": 265, "d1": 275, "c": "3.5 - 4", "lo": 12.5, "hi": 16.67},
 {"d0": 265, "d1": 275, "c": "4 - 4.5", "lo": 16.67, "hi": 20.83},
 {"d0": 255, "d1": 265, "c": "1.5 - 2", "lo": 0, "hi": 4.17},
 {"d0": 255, "d1": 265, "c": "4 - 4.5", "lo": 4.17, "hi": 8.33},
 {"d0": 285, "d1": 295, "c": "2 - 2.5", "lo": 0, "hi": 4.17},
 {"d0": 305, "d1": 315, "c": "0 - 0.5", "lo": 0, "hi": 4.17},
 {"d0": 305, "d1": 315, "c": "1 - 1.5", "lo": 4.17, "hi": 8.33},
 {"d0": -4, "d1": 4, "c": "0 - 0.5", "lo": 0, "hi": 4.17},
 {"d0": 35, "d1": 45, "c": "0 - 0.5", "lo": 0, "hi": 4.17},
 {"d0": 35, "d1": 45, "c": "1 - 1.5", "lo": 4.17, "hi": 8.33},
 {"d0": 65, "d1": 75, "c": "0 - 0.5", "lo": 0, "hi": 4.17},
 {"d0": 145, "d1": 155, "c": "0 - 0.5", "lo": 0, "hi": 4.17},
 {"d0": 145, "d1": 155, "c": "0.5 - 1", "lo": 4.17, "hi": 8.33},
 {"d0": 165, "d1": 175, "c": "1.5 - 2", "lo": 0, "hi": 4.17},
 {"d0": 185, "d1": 195, "c": "0 - 0.5", "lo": 0, "hi": 4.17},
 {"d0": 195, "d1": 205, "c": "0.5 - 1", "lo": 0, "hi": 4.17},
 {"d0": 195, "d1": 205, "c": "1 - 1.5", "lo": 4.17, "hi": 8.33},
 {"d0": 235, "d1": 245, "c": "0 - 0.5", "lo": 0, "hi": 4.17},
 {"d0": 235, "d1": 245, "c": "0.5 - 1", "lo": 4.17, "hi": 8.33}]},
 "mark": {"type": "arc", "stroke": "#333333", "strokeWidth": 0.5},
 "encoding": {"x": {"datum": 0, "type": "quantitative", "scale": {"domain": [-53.613, 63.871]}, "axis": null}, "y": {"datum": 0, "type": "quantitative", "scale": {"domain": [-45.29, 42.581]}, "axis": null},
  "theta": {"field": "d0", "type": "quantitative", "scale": {"domain": [0, 360], "range": [0, 6.283185]}, "stack": null}, "theta2": {"field": "d1"},
  "radius": {"field": "hi", "type": "quantitative", "scale": {"type": "linear", "domain": [0, 30], "range": [5, 160]}, "stack": null}, "radius2": {"field": "lo"},
  "color": {"field": "c", "type": "nominal", "scale": {"domain": ["4 - 4.5", "3.5 - 4", "3 - 3.5", "2.5 - 3", "2 - 2.5", "1.5 - 2", "1 - 1.5", "0.5 - 1", "0 - 0.5"], "range": ["#800000", "#ff0000", "#ff8000", "#ffff00", "#80ff80", "#00ffff", "#0080ff", "#0000ff", "#000080"]},
   "legend": {"orient": "none", "legendX": 452, "legendY": 234, "title": null, "symbolType": "M-1,-0.667H1V0.667H-1Z", "symbolSize": 225, "symbolStrokeColor": "#444444", "symbolStrokeWidth": 0.5, "labelFontSize": 8, "labelColor": "#333333", "labelOffset": 3, "rowPadding": 1}}}},
{"data": {"values": [{}]}, "mark": {"type": "text", "text": "NORTH", "align": "left", "baseline": "middle", "radiusOffset": -6, "fontSize": 8.5, "fill": "#333333"},
 "encoding": {"x": {"datum": 0, "type": "quantitative", "scale": {"domain": [-53.613, 63.871]}, "axis": null}, "y": {"datum": 0, "type": "quantitative", "scale": {"domain": [-45.29, 42.581]}, "axis": null}, "theta": {"datum": 0, "type": "quantitative", "scale": {"domain": [0, 360], "range": [0, 6.283185]}}, "radius": {"datum": 30, "type": "quantitative", "scale": {"type": "linear", "domain": [0, 30], "range": [5, 160]}}}},
{"data": {"values": [{}]}, "mark": {"type": "text", "text": "SOUTH", "align": "left", "baseline": "middle", "radiusOffset": -5, "fontSize": 8.5, "fill": "#333333"},
 "encoding": {"x": {"datum": 0, "type": "quantitative", "scale": {"domain": [-53.613, 63.871]}, "axis": null}, "y": {"datum": 0, "type": "quantitative", "scale": {"domain": [-45.29, 42.581]}, "axis": null}, "theta": {"datum": 180, "type": "quantitative", "scale": {"domain": [0, 360], "range": [0, 6.283185]}}, "radius": {"datum": 30, "type": "quantitative", "scale": {"type": "linear", "domain": [0, 30], "range": [5, 160]}}}},
{"data": {"values": [{}]}, "mark": {"type": "text", "text": "WEST", "align": "left", "baseline": "middle", "dy": 5, "fontSize": 8.5, "fill": "#333333"},
 "encoding": {"x": {"datum": 0, "type": "quantitative", "scale": {"domain": [-53.613, 63.871]}, "axis": null}, "y": {"datum": 0, "type": "quantitative", "scale": {"domain": [-45.29, 42.581]}, "axis": null}, "theta": {"datum": 270, "type": "quantitative", "scale": {"domain": [0, 360], "range": [0, 6.283185]}}, "radius": {"datum": 30, "type": "quantitative", "scale": {"type": "linear", "domain": [0, 30], "range": [5, 160]}}}},
{"data": {"values": [{}]}, "mark": {"type": "text", "text": "EAST", "align": "right", "baseline": "middle", "dy": 5, "fontSize": 8.5, "fill": "#333333"},
 "encoding": {"x": {"datum": 0, "type": "quantitative", "scale": {"domain": [-53.613, 63.871]}, "axis": null}, "y": {"datum": 0, "type": "quantitative", "scale": {"domain": [-45.29, 42.581]}, "axis": null}, "theta": {"datum": 90, "type": "quantitative", "scale": {"domain": [0, 360], "range": [0, 6.283185]}}, "radius": {"datum": 30, "type": "quantitative", "scale": {"type": "linear", "domain": [0, 30], "range": [5, 160]}}}},
{"data": {"values": [{"v": 10, "lbl": "10%"}, {"v": 20, "lbl": "20%"}, {"v": 30, "lbl": "30%"}]}, "mark": {"type": "text", "radiusOffset": -9, "fontSize": 8, "fill": "#333333"},
 "encoding": {"x": {"datum": 0, "type": "quantitative", "scale": {"domain": [-53.613, 63.871]}, "axis": null}, "y": {"datum": 0, "type": "quantitative", "scale": {"domain": [-45.29, 42.581]}, "axis": null}, "theta": {"datum": 44, "type": "quantitative", "scale": {"domain": [0, 360], "range": [0, 6.283185]}}, "radius": {"field": "v", "type": "quantitative", "scale": {"type": "linear", "domain": [0, 30], "range": [5, 160]}, "stack": null}, "text": {"field": "lbl"}}},
{"data": {"values": [{}]}, "mark": {"type": "text", "text": "TSM 08-05-03", "align": "center", "baseline": "middle", "fontSize": 11, "fill": "#222222"},
 "encoding": {"x": {"datum": 7.161, "type": "quantitative", "scale": {"domain": [-53.613, 63.871]}, "axis": null}, "y": {"datum": 38.129, "type": "quantitative", "scale": {"domain": [-45.29, 42.581]}, "axis": null}}},
{"data": {"values": [{}]}, "mark": {"type": "rule", "stroke": "#4f81bd", "strokeWidth": 2},
 "encoding": {"x": {"datum": -53.613, "type": "quantitative", "scale": {"domain": [-53.613, 63.871]}, "axis": null}, "y": {"datum": -45.29, "type": "quantitative", "scale": {"domain": [-45.29, 42.581]}, "axis": null}, "y2": {"datum": 42.581}}},
{"data": {"values": [{}]}, "mark": {"type": "rule", "stroke": "#4f81bd", "strokeWidth": 2},
 "encoding": {"x": {"datum": 63.871, "type": "quantitative", "scale": {"domain": [-53.613, 63.871]}, "axis": null}, "y": {"datum": -45.29, "type": "quantitative", "scale": {"domain": [-45.29, 42.581]}, "axis": null}, "y2": {"datum": 42.581}}},
{"data": {"values": [{}]}, "mark": {"type": "rule", "stroke": "#4f81bd", "strokeWidth": 2},
 "encoding": {"y": {"datum": 42.581, "type": "quantitative", "scale": {"domain": [-45.29, 42.581]}, "axis": null}, "x": {"datum": -53.613, "type": "quantitative", "scale": {"domain": [-53.613, 63.871]}, "axis": null}, "x2": {"datum": 63.871}}}
]},
{"width": 606, "height": 454, "view": {"stroke": null},
"layer": [
{"data": {"values": [{"r": 5}, {"r": 10}, {"r": 15}, {"r": 20}]}, "mark": {"type": "arc", "theta": 0, "theta2": 6.283185, "filled": false, "stroke": "#b5b5b5", "strokeWidth": 0.9, "strokeDash": [1, 2]},
 "encoding": {"x": {"datum": 0, "type": "quantitative", "scale": {"domain": [-35.513, 42.179]}, "axis": null}, "y": {"datum": 0, "type": "quantitative", "scale": {"domain": [-30.0, 28.205]}, "axis": null}, "radius": {"field": "r", "type": "quantitative", "scale": {"type": "linear", "domain": [0, 20], "range": [4, 160]}, "stack": null}}},
{"data": {"values": [{}]}, "mark": {"type": "rule", "stroke": "#b5b5b5", "strokeWidth": 0.9, "strokeDash": [1, 2]},
 "encoding": {"x": {"datum": 0, "type": "quantitative", "scale": {"domain": [-35.513, 42.179]}, "axis": null}, "y": {"datum": -20.513, "type": "quantitative", "scale": {"domain": [-30.0, 28.205]}, "axis": null}, "y2": {"datum": 20.513}}},
{"data": {"values": [{}]}, "mark": {"type": "rule", "stroke": "#b5b5b5", "strokeWidth": 0.9, "strokeDash": [1, 2]},
 "encoding": {"y": {"datum": 0, "type": "quantitative", "scale": {"domain": [-30.0, 28.205]}, "axis": null}, "x": {"datum": -20.513, "type": "quantitative", "scale": {"domain": [-35.513, 42.179]}, "axis": null}, "x2": {"datum": 20.513}}},
{"data": {"values": [
 {"d0": 55, "d1": 65, "c": "0.2 - 0.4", "lo": 0, "hi": 4.17},
 {"d0": 65, "d1": 75, "c": "0.4 - 0.6", "lo": 0, "hi": 4.17},
 {"d0": 115, "d1": 125, "c": "0.4 - 0.6", "lo": 0, "hi": 4.17},
 {"d0": 135, "d1": 145, "c": "1 - 1.2", "lo": 0, "hi": 4.17},
 {"d0": 145, "d1": 155, "c": "0.2 - 0.4", "lo": 0, "hi": 4.17},
 {"d0": 145, "d1": 155, "c": "0.6 - 0.8", "lo": 4.17, "hi": 8.33},
 {"d0": 165, "d1": 175, "c": "1 - 1.2", "lo": 0, "hi": 4.17},
 {"d0": 165, "d1": 175, "c": "1.4 - 1.6", "lo": 4.17, "hi": 8.33},
 {"d0": 195, "d1": 205, "c": "0.4 - 0.6", "lo": 0, "hi": 4.17},
 {"d0": 215, "d1": 225, "c": "0.4 - 0.6", "lo": 0, "hi": 4.17},
 {"d0": 225, "d1": 235, "c": "0.4 - 0.6", "lo": 0, "hi": 12.5},
 {"d0": 225, "d1": 235, "c": "0.8 - 1", "lo": 12.5, "hi": 16.67},
 {"d0": 235, "d1": 245, "c": "0.8 - 1", "lo": 0, "hi": 4.17},
 {"d0": 255, "d1": 265, "c": "0.4 - 0.6", "lo": 0, "hi": 8.33},
 {"d0": 265, "d1": 275, "c": "0.4 - 0.6", "lo": 0, "hi": 4.17},
 {"d0": 265, "d1": 275, "c": "1 - 1.2", "lo": 4.17, "hi": 8.33},
 {"d0": 275, "d1": 285, "c": "1 - 1.2", "lo": 0, "hi": 4.17},
 {"d0": 285, "d1": 295, "c": "0.8 - 1", "lo": 0, "hi": 4.17},
 {"d0": 305, "d1": 315, "c": "1.6 - 1.8", "lo": 0, "hi": 4.17},
 {"d0": 315, "d1": 325, "c": "0.8 - 1", "lo": 0, "hi": 4.17},
 {"d0": 325, "d1": 335, "c": "0.4 - 0.6", "lo": 0, "hi": 4.17}]},
 "mark": {"type": "arc", "stroke": "#333333", "strokeWidth": 0.5},
 "encoding": {"x": {"datum": 0, "type": "quantitative", "scale": {"domain": [-35.513, 42.179]}, "axis": null}, "y": {"datum": 0, "type": "quantitative", "scale": {"domain": [-30.0, 28.205]}, "axis": null},
  "theta": {"field": "d0", "type": "quantitative", "scale": {"domain": [0, 360], "range": [0, 6.283185]}, "stack": null}, "theta2": {"field": "d1"},
  "radius": {"field": "hi", "type": "quantitative", "scale": {"type": "linear", "domain": [0, 20], "range": [4, 160]}, "stack": null}, "radius2": {"field": "lo"},
  "color": {"field": "c", "type": "nominal", "scale": {"domain": ["1.6 - 1.8", "1.4 - 1.6", "1.2 - 1.4", "1 - 1.2", "0.8 - 1", "0.6 - 0.8", "0.4 - 0.6", "0.2 - 0.4"], "range": ["#800000", "#ff1200", "#ffa400", "#c9ff36", "#36ffc9", "#00a4ff", "#0012ff", "#000080"]},
   "legend": {"orient": "none", "legendX": 452, "legendY": 250, "title": null, "symbolType": "M-1,-0.667H1V0.667H-1Z", "symbolSize": 225, "symbolStrokeColor": "#444444", "symbolStrokeWidth": 0.5, "labelFontSize": 8, "labelColor": "#333333", "labelOffset": 3, "rowPadding": 1}}}},
{"data": {"values": [{}]}, "mark": {"type": "text", "text": "NORTH", "align": "left", "baseline": "middle", "radiusOffset": -6, "fontSize": 8.5, "fill": "#333333"},
 "encoding": {"x": {"datum": 0, "type": "quantitative", "scale": {"domain": [-35.513, 42.179]}, "axis": null}, "y": {"datum": 0, "type": "quantitative", "scale": {"domain": [-30.0, 28.205]}, "axis": null}, "theta": {"datum": 0, "type": "quantitative", "scale": {"domain": [0, 360], "range": [0, 6.283185]}}, "radius": {"datum": 20, "type": "quantitative", "scale": {"type": "linear", "domain": [0, 20], "range": [4, 160]}}}},
{"data": {"values": [{}]}, "mark": {"type": "text", "text": "SOUTH", "align": "left", "baseline": "middle", "radiusOffset": -5, "fontSize": 8.5, "fill": "#333333"},
 "encoding": {"x": {"datum": 0, "type": "quantitative", "scale": {"domain": [-35.513, 42.179]}, "axis": null}, "y": {"datum": 0, "type": "quantitative", "scale": {"domain": [-30.0, 28.205]}, "axis": null}, "theta": {"datum": 180, "type": "quantitative", "scale": {"domain": [0, 360], "range": [0, 6.283185]}}, "radius": {"datum": 20, "type": "quantitative", "scale": {"type": "linear", "domain": [0, 20], "range": [4, 160]}}}},
{"data": {"values": [{}]}, "mark": {"type": "text", "text": "WEST", "align": "left", "baseline": "middle", "dy": 5, "fontSize": 8.5, "fill": "#333333"},
 "encoding": {"x": {"datum": 0, "type": "quantitative", "scale": {"domain": [-35.513, 42.179]}, "axis": null}, "y": {"datum": 0, "type": "quantitative", "scale": {"domain": [-30.0, 28.205]}, "axis": null}, "theta": {"datum": 270, "type": "quantitative", "scale": {"domain": [0, 360], "range": [0, 6.283185]}}, "radius": {"datum": 20, "type": "quantitative", "scale": {"type": "linear", "domain": [0, 20], "range": [4, 160]}}}},
{"data": {"values": [{}]}, "mark": {"type": "text", "text": "EAST", "align": "right", "baseline": "middle", "dy": 5, "fontSize": 8.5, "fill": "#333333"},
 "encoding": {"x": {"datum": 0, "type": "quantitative", "scale": {"domain": [-35.513, 42.179]}, "axis": null}, "y": {"datum": 0, "type": "quantitative", "scale": {"domain": [-30.0, 28.205]}, "axis": null}, "theta": {"datum": 90, "type": "quantitative", "scale": {"domain": [0, 360], "range": [0, 6.283185]}}, "radius": {"datum": 20, "type": "quantitative", "scale": {"type": "linear", "domain": [0, 20], "range": [4, 160]}}}},
{"data": {"values": [{"v": 5, "lbl": "5%"}, {"v": 10, "lbl": "10%"}, {"v": 15, "lbl": "15%"}, {"v": 20, "lbl": "20%"}]}, "mark": {"type": "text", "radiusOffset": -9, "fontSize": 8, "fill": "#333333"},
 "encoding": {"x": {"datum": 0, "type": "quantitative", "scale": {"domain": [-35.513, 42.179]}, "axis": null}, "y": {"datum": 0, "type": "quantitative", "scale": {"domain": [-30.0, 28.205]}, "axis": null}, "theta": {"datum": 44, "type": "quantitative", "scale": {"domain": [0, 360], "range": [0, 6.283185]}}, "radius": {"field": "v", "type": "quantitative", "scale": {"type": "linear", "domain": [0, 20], "range": [4, 160]}, "stack": null}, "text": {"field": "lbl"}}},
{"data": {"values": [{}]}, "mark": {"type": "text", "text": "TSM 25-12-03", "align": "center", "baseline": "middle", "fontSize": 11, "fill": "#222222"},
 "encoding": {"x": {"datum": 4.744, "type": "quantitative", "scale": {"domain": [-35.513, 42.179]}, "axis": null}, "y": {"datum": 25.256, "type": "quantitative", "scale": {"domain": [-30.0, 28.205]}, "axis": null}}},
{"data": {"values": [{}]}, "mark": {"type": "rule", "stroke": "#4f81bd", "strokeWidth": 2},
 "encoding": {"x": {"datum": -35.513, "type": "quantitative", "scale": {"domain": [-35.513, 42.179]}, "axis": null}, "y": {"datum": -30.0, "type": "quantitative", "scale": {"domain": [-30.0, 28.205]}, "axis": null}, "y2": {"datum": 28.205}}},
{"data": {"values": [{}]}, "mark": {"type": "rule", "stroke": "#4f81bd", "strokeWidth": 2},
 "encoding": {"x": {"datum": 42.179, "type": "quantitative", "scale": {"domain": [-35.513, 42.179]}, "axis": null}, "y": {"datum": -30.0, "type": "quantitative", "scale": {"domain": [-30.0, 28.205]}, "axis": null}, "y2": {"datum": 28.205}}},
{"data": {"values": [{}]}, "mark": {"type": "rule", "stroke": "#4f81bd", "strokeWidth": 2},
 "encoding": {"y": {"datum": 28.205, "type": "quantitative", "scale": {"domain": [-30.0, 28.205]}, "axis": null}, "x": {"datum": -35.513, "type": "quantitative", "scale": {"domain": [-35.513, 42.179]}, "axis": null}, "x2": {"datum": 42.179}}}
]}
], "spacing": 2, "bounds": "flush",
"resolve": {"scale": {"x": "independent", "y": "independent", "color": "independent", "radius": "independent", "theta": "independent"}, "legend": {"color": "independent"}}}
]
}
